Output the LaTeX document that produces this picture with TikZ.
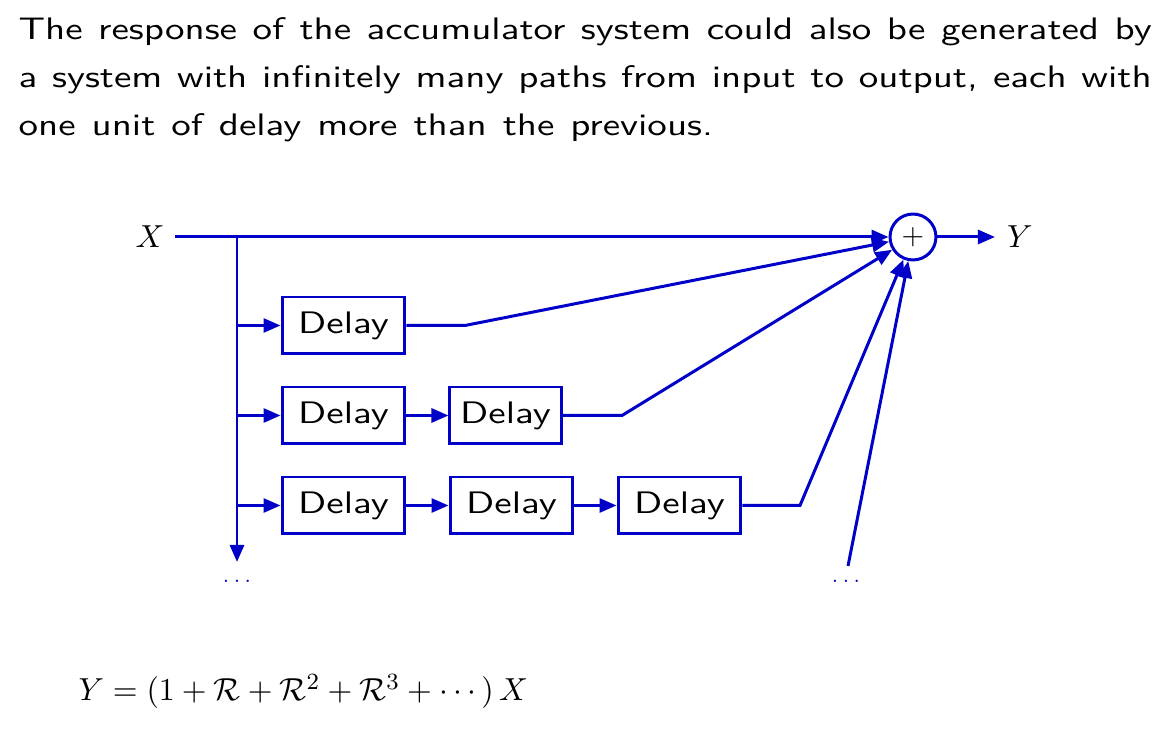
\documentclass[tikz,border=0pt]{standalone}
\usepackage{amsmath}
\usepackage{graphicx}
\usetikzlibrary{arrows.meta,calc}
\definecolor{lineblue}{RGB}{0,0,200}
\newcommand{\widetext}[1]{\scalebox{1.255}[1]{#1}}
\tikzset{
  wire/.style={draw=lineblue,line width=1.03pt},
  arr/.style={wire,-{Triangle[length=5.85pt,width=4.8pt]}},
  delaybox/.style={draw=lineblue,line width=1.03pt,minimum width=42.3pt,minimum height=19.6pt,inner sep=0pt,font=\sffamily\fontsize{10.7}{12}\selectfont},
  sumnode/.style={circle,draw=lineblue,line width=1.03pt,minimum size=15.8pt,inner sep=0pt},
  lbl/.style={inner sep=0pt,font=\fontsize{11}{13}\selectfont},
  para/.style={inner sep=0pt,anchor=base west,font=\sffamily\fontsize{10.7}{16.5}\selectfont},
  dots/.style={inner sep=0pt,anchor=base,text=lineblue,font=\fontsize{7.5}{8}\selectfont}
}
\begin{document}
\begin{tikzpicture}[x=0.344pt,y=-0.344pt]
\useasboundingbox (0,0) rectangle (1161,732);
% paragraph
\node[para] (t1) at (18,40) {\widetext{\makebox[310.6pt][s]{The response of the accumulator system could also be generated by}}};
\node[para] (t2) at (18,88) {\widetext{\makebox[310.6pt][s]{a system with infinitely many paths from input to output, each with}}};
\node[para] (t3) at (18,136) {\widetext{\spaceskip=0.41em one unit of delay more than the previous.}};
% main nodes
\node[lbl] (X) at (150,237) {$X$};
\node[sumnode] (sum) at (913,237) {$+$};
\node[lbl] (Y) at (1020,237) {$Y$};
\node[delaybox] (d11) at (343.5,325.5) {\widetext{Delay}};
\node[delaybox] (d21) at (343.5,415.5) {\widetext{Delay}};
\node[delaybox,minimum width=38.2pt] (d22) at (505.5,415.5) {\widetext{Delay}};
\node[delaybox] (d31) at (343.5,505.5) {\widetext{Delay}};
\node[delaybox] (d32) at (511.5,505.5) {\widetext{Delay}};
\node[delaybox] (d33) at (679.5,505.5) {\widetext{Delay}};
\node[dots] (dl) at (237,583) {$\ldots$};
\node[dots] (dr) at (846,583) {$\ldots$};
\coordinate (xs) at (175,237);
\coordinate (ye) at (995,237);
\coordinate (j0) at (237,237);
\coordinate (jend) at (237,562);
\coordinate (k1) at (465,325.5);
\coordinate (k2) at (622,415.5);
\coordinate (k3) at (800,505.5);
\coordinate (k4) at (848,566);
% wires
\draw[arr] (xs) -- (sum.west);
\draw[arr] (j0) -- (jend);
\draw[arr] (sum.east) -- (ye);
\draw[arr] (d11.west -| j0) -- (d11.west);
\draw[arr] (d21.west -| j0) -- (d21.west);
\draw[arr] (d31.west -| j0) -- (d31.west);
\draw[arr] (d21.east) -- (d22.west);
\draw[arr] (d31.east) -- (d32.west);
\draw[arr] (d32.east) -- (d33.west);
\draw[arr] (d11.east) -- (k1) -- (sum);
\draw[arr] (d22.east) -- (k2) -- (sum);
\draw[arr] (d33.east) -- (k3) -- (sum);
\draw[arr] (k4) -- (sum);
% formula
\node[lbl,anchor=base west,font=\fontsize{11.2}{13}\selectfont] (eq) at (78,701) {$Y = (1+\mathcal{R}+\mathcal{R}^2+\mathcal{R}^3+\cdots)\,X$};
\end{tikzpicture}
\end{document}
